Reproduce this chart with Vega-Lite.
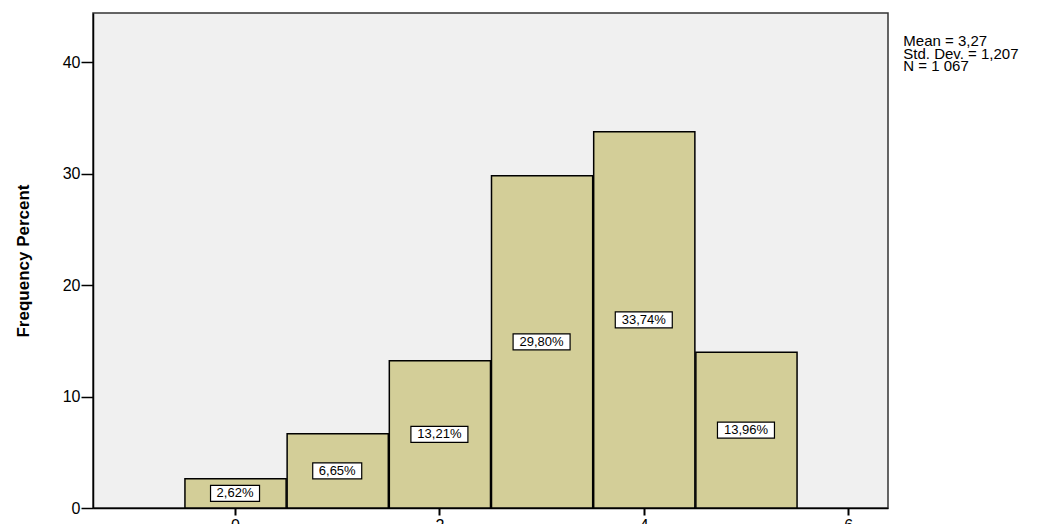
{
  "$schema": "https://vega.github.io/schema/vega-lite/v6.json",
  "autosize": {"type": "none"},
  "width": 795,
  "height": 495,
  "padding": {"left": 93, "top": 13, "right": 174, "bottom": 16},
  "background": "white",
  "config": {
    "view": {"fill": "#f0f0f0", "stroke": "#333333", "strokeWidth": 1.5},
    "font": "Liberation Sans"
  },
  "data": {
    "values": [
      {"value": 0, "bin_start": -0.5, "bin_end": 0.5, "pct": 2.62, "label": "2,62%"},
      {"value": 1, "bin_start": 0.5, "bin_end": 1.5, "pct": 6.65, "label": "6,65%"},
      {"value": 2, "bin_start": 1.5, "bin_end": 2.5, "pct": 13.21, "label": "13,21%"},
      {"value": 3, "bin_start": 2.5, "bin_end": 3.5, "pct": 29.80, "label": "29,80%"},
      {"value": 4, "bin_start": 3.5, "bin_end": 4.5, "pct": 33.74, "label": "33,74%"},
      {"value": 5, "bin_start": 4.5, "bin_end": 5.5, "pct": 13.96, "label": "13,96%"}
    ]
  },
  "layer": [
    {
      "mark": {"type": "bar", "fill": "#d3ce98", "stroke": "#000000", "strokeWidth": 1.5},
      "encoding": {
        "x": {
          "field": "bin_start", "type": "quantitative", "bin": "binned",
          "scale": {"domain": [-1.39, 6.39], "nice": false, "zero": false},
          "axis": {
            "values": [0, 2, 4, 6], "format": "d", "title": null, "grid": false,
            "domainColor": "#000000", "domainWidth": 1.5,
            "tickColor": "#000000", "tickWidth": 2, "tickSize": 7,
            "labelFontSize": 16, "labelColor": "#000000", "labelPadding": 2,
            "labelFont": "Liberation Sans"
          }
        },
        "x2": {"field": "bin_end"},
        "y": {
          "field": "pct", "type": "quantitative",
          "scale": {"domain": [0, 44.4], "nice": false},
          "axis": {
            "values": [0, 10, 20, 30, 40], "format": "d", "title": "Frequency Percent", "grid": false,
            "domainColor": "#000000", "domainWidth": 1.5,
            "tickColor": "#000000", "tickWidth": 1.5, "tickSize": 12,
            "labelFontSize": 16, "labelColor": "#000000", "labelPadding": 1,
            "labelFont": "Liberation Sans",
            "titleFont": "Liberation Sans", "titleFontWeight": "bold",
            "titleFontSize": 17, "titleColor": "#000000", "titlePadding": 30
          }
        }
      }
    },
    {
      "transform": [{"calculate": "datum.pct / 2", "as": "mid"}, {"filter": "datum.pct < 10"}],
      "mark": {"type": "rect", "width": 49, "height": 16, "fill": "white", "stroke": "#000000", "strokeWidth": 1.2},
      "encoding": {
        "x": {"field": "value", "type": "quantitative"},
        "y": {"field": "mid", "type": "quantitative"}
      }
    },
    {
      "transform": [{"calculate": "datum.pct / 2", "as": "mid"}, {"filter": "datum.pct >= 10"}],
      "mark": {"type": "rect", "width": 57, "height": 16, "fill": "white", "stroke": "#000000", "strokeWidth": 1.2},
      "encoding": {
        "x": {"field": "value", "type": "quantitative"},
        "y": {"field": "mid", "type": "quantitative"}
      }
    },
    {
      "transform": [{"calculate": "datum.pct / 2", "as": "mid"}],
      "mark": {"type": "text", "fontSize": 13, "font": "Liberation Sans", "color": "#000000", "align": "center", "baseline": "middle"},
      "encoding": {
        "x": {"field": "value", "type": "quantitative"},
        "y": {"field": "mid", "type": "quantitative"},
        "text": {"field": "label"}
      }
    },
    {
      "data": {"values": [{"stats": ["Mean = 3,27", "Std. Dev. = 1,207", "N = 1 067"]}]},
      "mark": {"type": "text", "fontSize": 15, "font": "Liberation Sans", "color": "#000000", "align": "left", "baseline": "top", "lineHeight": 12.5, "clip": false},
      "encoding": {
        "x": {"datum": 6.54},
        "y": {"datum": 42.5},
        "text": {"field": "stats"}
      }
    }
  ]
}
